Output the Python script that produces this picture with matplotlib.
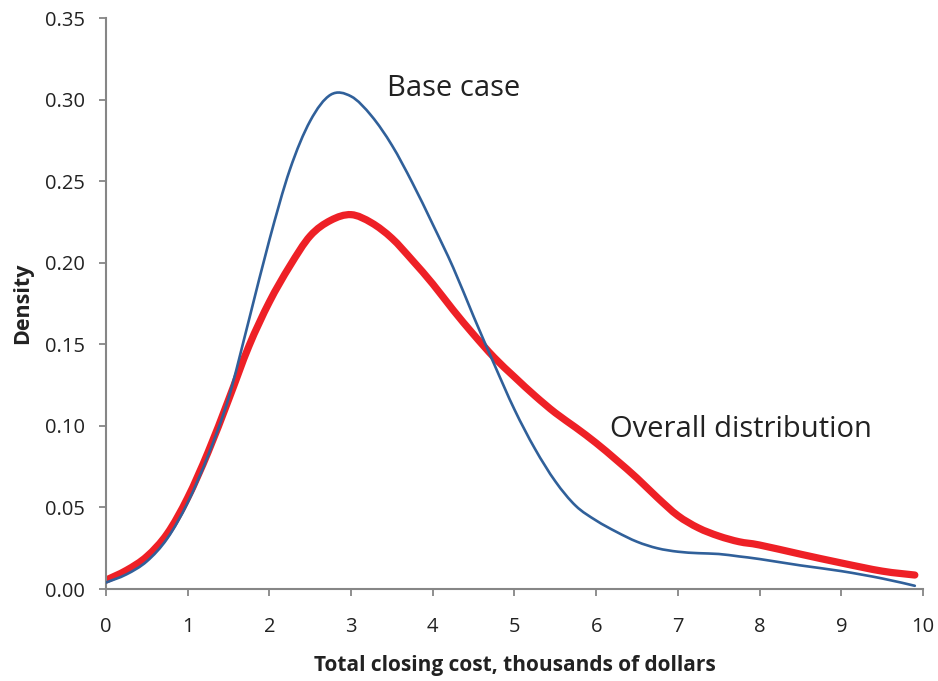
import matplotlib
matplotlib.use("Agg")
import matplotlib.pyplot as plt
from matplotlib.path import Path
from matplotlib.patches import PathPatch

plt.rcParams['font.family'] = ['Open Sans', 'DejaVu Sans']

# Base case density readings
base_x = [0.0, 0.25, 0.5, 0.75, 1.0, 1.25, 1.5, 1.75, 2.0, 2.25, 2.5, 2.75, 3.0,
          3.25, 3.5, 3.75, 4.0, 4.25, 4.5, 4.75, 5.0, 5.25, 5.5, 5.75, 6.0, 6.25, 6.5,
          6.75, 7.0, 7.25, 7.5, 7.75, 8.0, 8.5, 9.0, 9.5, 9.9]
base_y = [0.004, 0.009, 0.017, 0.031, 0.053, 0.082, 0.117, 0.165, 0.214, 0.257, 0.287,
          0.303, 0.302, 0.290, 0.272, 0.249, 0.2235, 0.197, 0.167, 0.138, 0.110,
          0.086, 0.066, 0.051, 0.042, 0.035, 0.029, 0.025, 0.0229, 0.022, 0.0215,
          0.020, 0.0184, 0.0145, 0.011, 0.0065, 0.002]

# Overall distribution density readings
overall_x = [0.0, 0.25, 0.5, 0.75, 1.0, 1.25, 1.5, 1.75, 2.0, 2.25, 2.5, 2.75, 3.0, 3.25,
             3.5, 3.75, 4.0, 4.25, 4.5, 4.75, 5.0, 5.25, 5.5, 5.75, 6.0, 6.25, 6.5, 6.75,
             7.0, 7.25, 7.5, 7.75, 8.0, 8.5, 9.0, 9.5, 9.9]
overall_y = [0.0055, 0.0115, 0.020, 0.034, 0.056, 0.084, 0.116, 0.149, 0.176, 0.198,
             0.2165, 0.226, 0.2295, 0.2245, 0.215, 0.2015, 0.187, 0.171, 0.156, 0.142,
             0.130, 0.1185, 0.108, 0.099, 0.0895, 0.079, 0.068, 0.056, 0.045, 0.0375,
             0.0325, 0.029, 0.027, 0.0214, 0.016, 0.011, 0.0086]

x_ticks = [0, 1, 2, 3, 4, 5, 6, 7, 8, 9, 10]
y_ticks = [0.00, 0.05, 0.10, 0.15, 0.20, 0.25, 0.30, 0.35]


def smooth_path(xs, ys):
    """Smoothed line (Bezier through the data points, like a spreadsheet's smoothed line)."""
    n = len(xs)
    verts = [(xs[0], ys[0])]
    codes = [Path.MOVETO]
    for i in range(n - 1):
        x0, y0 = xs[max(i - 1, 0)], ys[max(i - 1, 0)]
        x1, y1 = xs[i], ys[i]
        x2, y2 = xs[i + 1], ys[i + 1]
        x3, y3 = xs[min(i + 2, n - 1)], ys[min(i + 2, n - 1)]
        c1 = (x1 + (x2 - x0) / 6.0, y1 + (y2 - y0) / 6.0)
        c2 = (x2 - (x3 - x1) / 6.0, y2 - (y3 - y1) / 6.0)
        verts += [c1, c2, (x2, y2)]
        codes += [Path.CURVE4] * 3
    return Path(verts, codes)


fig = plt.figure(figsize=(9.38, 6.81), dpi=100)
ax = fig.add_axes([0.113, 0.135, 0.871, 0.8385])

ax.add_patch(PathPatch(smooth_path(overall_x, overall_y), facecolor='none',
                       edgecolor='#EE2026', lw=5.2, capstyle='round', zorder=2))
ax.add_patch(PathPatch(smooth_path(base_x, base_y), facecolor='none',
                       edgecolor='#30609A', lw=1.9, capstyle='round', zorder=3))

ax.set_xlim(0, 10)
ax.set_ylim(0, 0.35)
ax.set_xticks(x_ticks)
ax.set_xticklabels([str(t) for t in x_ticks])
ax.set_yticks(y_ticks)
ax.set_yticklabels([f"{t:.2f}" for t in y_ticks])

for s in ['top', 'right']:
    ax.spines[s].set_visible(False)
for s in ['left', 'bottom']:
    ax.spines[s].set_color('#868686')
    ax.spines[s].set_linewidth(1.5)
ax.tick_params(axis='both', direction='out', length=5, width=1.3, color='#868686',
               labelsize=14.5, labelcolor='#222222')
ax.tick_params(axis='x', pad=15)
ax.tick_params(axis='y', pad=10)

ax.set_xlabel('Total closing cost, thousands of dollars', fontsize=15, fontweight='bold',
              color='#222222', labelpad=13)
ax.set_ylabel('Density', fontsize=15.5, fontweight='bold', color='#222222', labelpad=9)

ax.text(3.44, 0.307, 'Base case', fontsize=21, color='#222222', va='center', ha='left')
ax.text(6.17, 0.098, 'Overall distribution', fontsize=21, color='#222222', va='center', ha='left')

fig.savefig('out.png', dpi=100)
